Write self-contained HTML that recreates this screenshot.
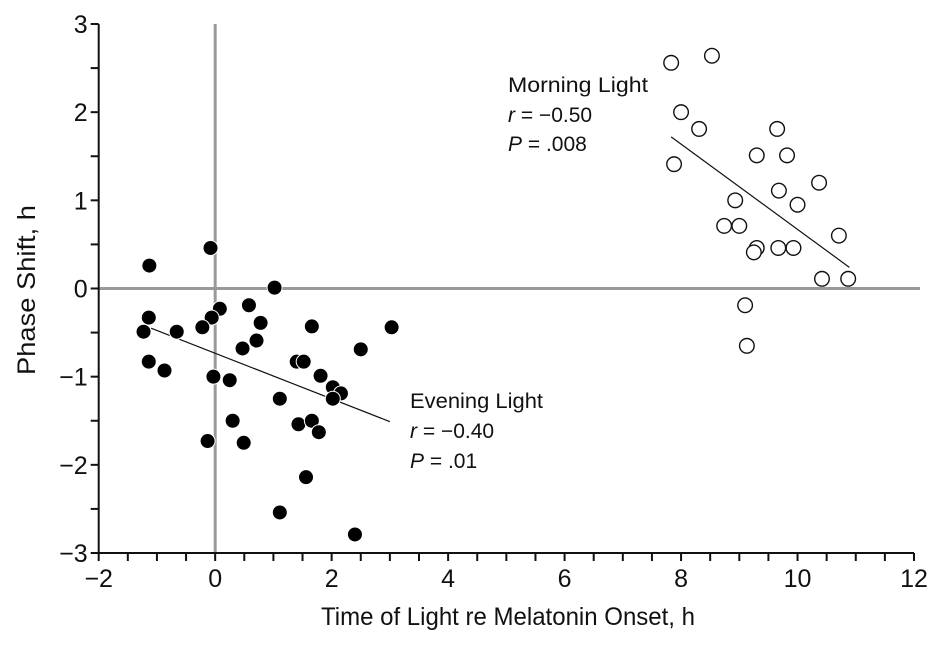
<!DOCTYPE html>
<html><head><meta charset="utf-8"><style>
html,body{margin:0;padding:0;background:#fff;}
svg text{font-family:"Liberation Sans",sans-serif;fill:#111;}
</style></head><body>
<svg id="chart" width="941" height="644" viewBox="0 0 941 644">
<g id="grid"></g><g id="axes"></g><g id="marks"></g>
<g>
<text x="508" y="92" font-size="21" textLength="140" lengthAdjust="spacingAndGlyphs">Morning Light</text>
<text x="508" y="122" font-size="21"><tspan font-style="italic">r</tspan> = −0.50</text>
<text x="508" y="151" font-size="21"><tspan font-style="italic">P</tspan> = .008</text>
</g>
<g>
<text x="410" y="408" font-size="21" textLength="133" lengthAdjust="spacingAndGlyphs">Evening Light</text>
<text x="410" y="438" font-size="21"><tspan font-style="italic">r</tspan> = −0.40</text>
<text x="410" y="468" font-size="21"><tspan font-style="italic">P</tspan> = .01</text>
</g>
<text x="321" y="625" font-size="25" textLength="374" lengthAdjust="spacingAndGlyphs">Time of Light re Melatonin Onset, h</text>
<text x="0" y="0" font-size="25" textLength="170" lengthAdjust="spacingAndGlyphs" transform="translate(35 375) rotate(-90)">Phase Shift, h</text>
</svg>
<script>
const xTicks=[-2,0,2,4,6,8,10,12];
const yTicks=[-3,-2,-1,0,1,2,3];
const eveningX=[-1.13,-0.08,1.02,-1.14,0.08,-0.06,-0.22,0.58,0.78,0.71,0.47,-1.23,-0.66,1.66,3.03,2.5,-1.14,-0.87,-0.03,0.25,1.4,1.52,1.81,2.02,2.16,2.02,1.11,0.3,1.43,1.66,1.78,-0.13,0.49,1.56,1.11,2.4];
const eveningY=[0.26,0.46,0.01,-0.33,-0.23,-0.33,-0.44,-0.19,-0.39,-0.59,-0.68,-0.49,-0.49,-0.43,-0.44,-0.69,-0.83,-0.93,-1.0,-1.04,-0.83,-0.83,-0.99,-1.12,-1.19,-1.25,-1.25,-1.5,-1.54,-1.5,-1.63,-1.73,-1.75,-2.14,-2.54,-2.79];
const morningX=[7.83,8.53,8.0,8.31,9.65,7.88,9.3,9.82,10.37,9.68,10.0,8.93,8.74,9.0,9.3,9.25,9.67,9.93,10.71,10.42,10.87,9.1,9.13];
const morningY=[2.56,2.64,2.0,1.81,1.81,1.41,1.51,1.51,1.2,1.11,0.95,1.0,0.71,0.71,0.46,0.41,0.46,0.46,0.6,0.11,0.11,-0.19,-0.65];
const eveningFitX=[-1.1,3.0];
const eveningFitY=[-0.45,-1.51];
const morningFitX=[7.83,10.89];
const morningFitY=[1.72,0.24];
const NS='http://www.w3.org/2000/svg';
const X0=98.7,X1=914,Y0=553,Y1=24;
function sx(v){return X0+(v+2)/14*(X1-X0);}
function sy(v){return Y0-(v+3)/6*(Y0-Y1);}
function mk(tag,attrs,parent){const e=document.createElementNS(NS,tag);for(const k in attrs)e.setAttribute(k,attrs[k]);parent.appendChild(e);return e;}
const grid=document.getElementById('grid'),axes=document.getElementById('axes'),marks=document.getElementById('marks');
let g=mk('line',{x1:sx(0),x2:sx(0),y1:Y1,y2:Y0,stroke:'#999','stroke-width':3},grid);


g=mk('line',{x1:X0,x2:X1+6,y1:sy(0),y2:sy(0),stroke:'#999','stroke-width':3},grid);


let a=mk('path',{d:`M${X0} ${Y1}V${Y0}H${X1}`,fill:'none',stroke:'#111','stroke-width':2},axes);


for(let v=-2;v<=12.001;v+=0.5){mk('line',{x1:sx(v),x2:sx(v),y1:Y0,y2:Y0+8,stroke:'#111','stroke-width':2},axes);}
for(let v=-3;v<=3.001;v+=0.5){mk('line',{x1:X0-8,x2:X0,y1:sy(v),y2:sy(v),stroke:'#111','stroke-width':2},axes);}
xTicks.forEach(v=>{const t=mk('text',{x:sx(v),y:Y0+34,'font-size':25,'text-anchor':'middle'},axes);t.textContent=(v<0?'−':'')+Math.abs(v);

});
yTicks.forEach(v=>{const t=mk('text',{x:X0-11,y:sy(v)+9,'font-size':25,'text-anchor':'end'},axes);t.textContent=(v<0?'−':'')+Math.abs(v);

});
let l=mk('line',{x1:sx(eveningFitX[0]),y1:sy(eveningFitY[0]),x2:sx(eveningFitX[1]),y2:sy(eveningFitY[1]),stroke:'#111','stroke-width':1.2},marks);


l=mk('line',{x1:sx(morningFitX[0]),y1:sy(morningFitY[0]),x2:sx(morningFitX[1]),y2:sy(morningFitY[1]),stroke:'#111','stroke-width':1.2},marks);


eveningX.forEach((x,i)=>{const c=mk('circle',{cx:sx(x),cy:sy(eveningY[i]),r:7.5,fill:'#000',stroke:'#fff','stroke-width':1},marks);

});
morningX.forEach((x,i)=>{const c=mk('circle',{cx:sx(x),cy:sy(morningY[i]),r:7.3,fill:'#fff',stroke:'#111','stroke-width':1.4},marks);

});
</script>
</body></html>
